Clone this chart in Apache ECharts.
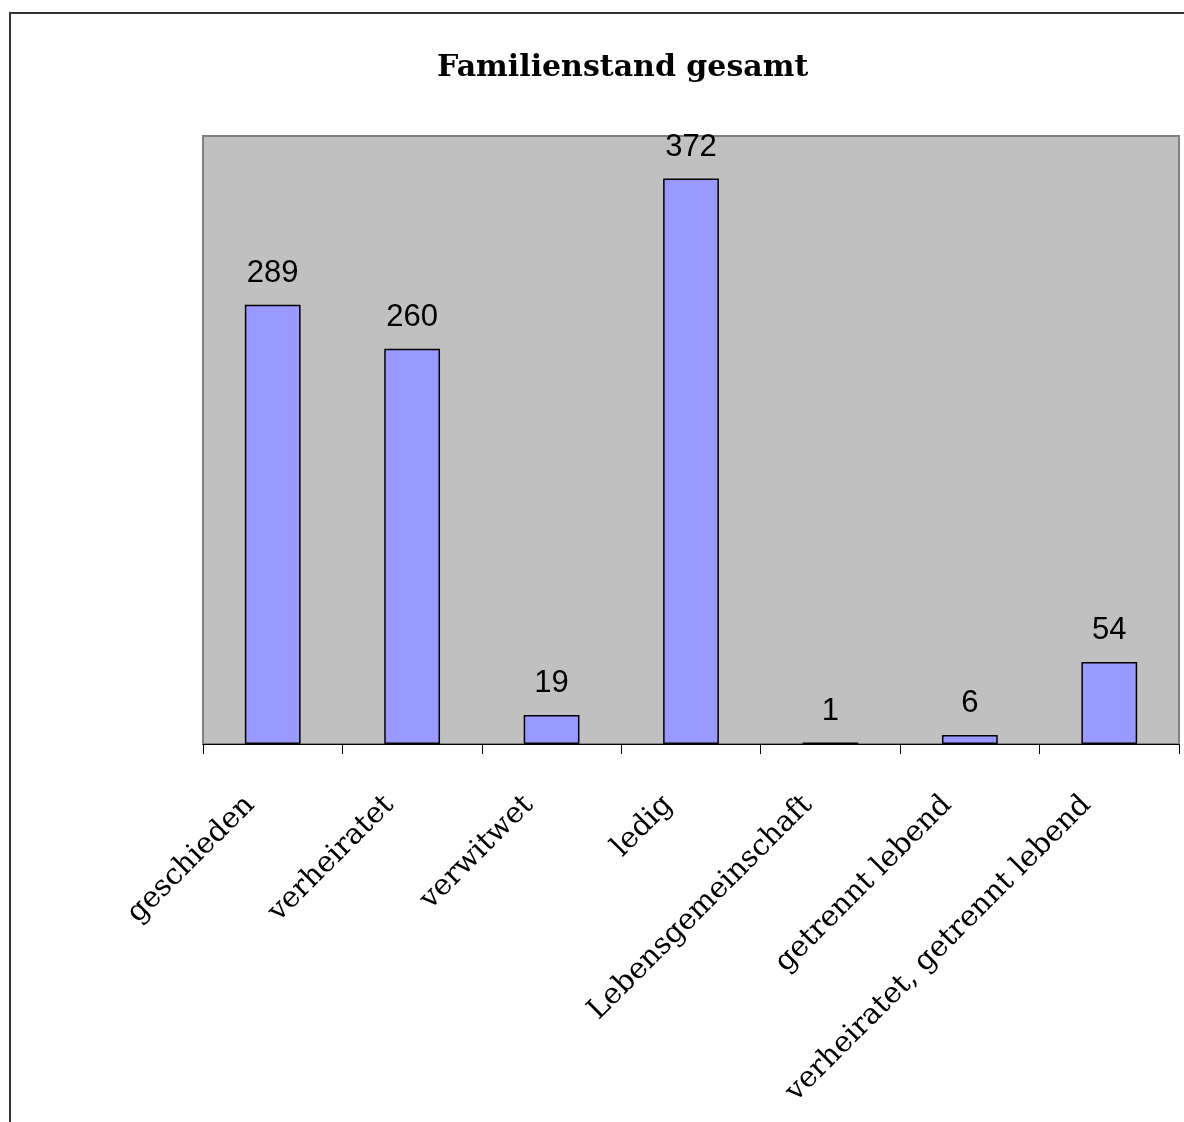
<!DOCTYPE html>
<html>
<head>
<meta charset="utf-8">
<script src="https://cdn.jsdelivr.net/npm/echarts@6/dist/echarts.min.js"></script>
<style>
  html, body { margin: 0; padding: 0; background: #fff; }
  #chart { width: 1184px; height: 1122px; }
</style>
</head>
<body>
<div id="chart"></div>
<script>
// Familienstand gesamt
var categories = ['geschieden', 'verheiratet', 'verwitwet', 'ledig',
  'Lebensgemeinschaft', 'getrennt lebend', 'verheiratet, getrennt lebend'];
var counts = [289, 260, 19, 372, 1, 6, 54];

var serif = '"DejaVu Serif", serif';

var myChart = echarts.init(document.getElementById('chart'));

myChart.setOption({
  animation: false,
  backgroundColor: '#fff',
  title: {
    text: 'Familienstand gesamt',
    left: 432,
    top: 48,
    textStyle: {
      fontFamily: serif,
      fontWeight: 'bold',
      fontSize: 30,
      color: '#000'
    }
  },
  graphic: [{
    type: 'rect',
    shape: { x: 10, y: 13, width: 1300, height: 1300 },
    style: { fill: null, stroke: '#333', lineWidth: 2 },
    silent: true
  }],
  grid: {
    left: 203,
    top: 136,
    right: 5,
    bottom: 378,
    show: true,
    backgroundColor: '#C0C0C0',
    borderColor: '#808080',
    borderWidth: 2
  },
  xAxis: {
    type: 'category',
    data: categories,
    axisLine: { lineStyle: { color: '#000', width: 1 } },
    axisTick: { show: true, length: 10, lineStyle: { color: '#000' } },
    axisLabel: {
      interval: 0,
      rotate: 45,
      margin: 34,
      padding: [0, 32, 0, 0],
      fontFamily: serif,
      fontSize: 29,
      color: '#000'
    }
  },
  yAxis: {
    type: 'value',
    min: 0,
    max: 400,
    show: false,
    splitLine: { show: false }
  },
  series: [{
    type: 'bar',
    data: counts,
    barWidth: '40%',
    itemStyle: {
      color: '#9999FF',
      borderColor: '#000',
      borderWidth: 1.5
    },
    label: {
      show: true,
      position: 'top',
      distance: 16,
      fontFamily: 'Liberation Sans',
      fontSize: 31,
      color: '#000'
    }
  }]
});
</script>
</body>
</html>
